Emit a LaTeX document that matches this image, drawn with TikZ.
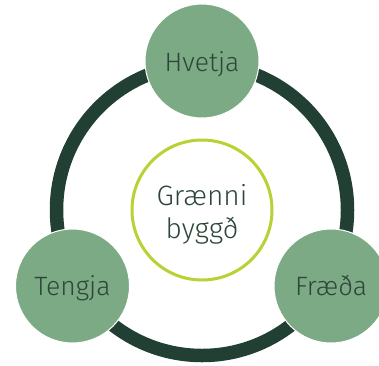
\documentclass[tikz,border=0pt]{standalone}
\usepackage{fontspec}
\setmainfont{Fira Sans Light}
\definecolor{ringc}{HTML}{223F33}
\definecolor{leaf}{HTML}{7BAA85}
\definecolor{lime}{HTML}{B6D334}
\definecolor{txt}{HTML}{2E463A}
\tikzset{
  bubble/.style={circle, fill=leaf, draw=white, line width=1pt, minimum size=114pt, inner sep=0pt},
  lbl/.style={anchor=base, text=txt, font=\fontsize{26.5}{33}\selectfont, inner sep=0pt},
  hub/.style={circle, fill=white, draw=lime, line width=3pt, minimum size=140pt, inner sep=0pt},
}
\begin{document}
\begin{tikzpicture}[x=1pt,y=-1pt]
\useasboundingbox (0,0) rectangle (379,365);
\clip (0,0) rectangle (379,365);
\fill[white] (0,0) rectangle (379,365);
\coordinate (c) at (202,210);
\draw[ringc, line width=13.5pt] (c) circle[radius=145.5];
\node[hub] (hub) at (c) {};
\node[text=txt, font=\fontsize{28}{33}\selectfont, align=center, inner sep=0pt] (hubt) at (202,214) {Grænni\\byggð};
\node[bubble] (top) at (202,61) {};
\node[bubble] (left) at (72.5,286) {};
\node[bubble] (right) at (331,286) {};
\node[lbl] (topt) at (202,71) {Hvetja};
\node[lbl] (leftt) at (72.5,295.5) {Tengja};
\node[lbl] (rightt) at (331,295) {Fræða};
\end{tikzpicture}
\end{document}
